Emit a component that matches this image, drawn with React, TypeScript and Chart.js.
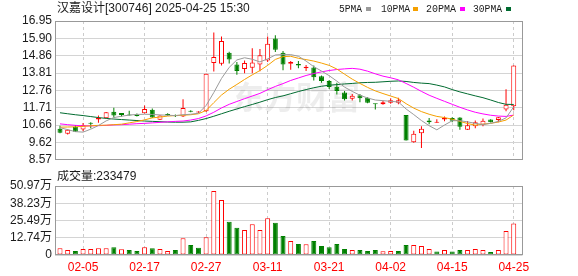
import React, { useEffect, useRef } from 'react';
import { Chart, registerables } from 'chart.js';

Chart.register(...registerables);

// ---------- data ----------
const days = ['01-23','01-24','01-27','02-05','02-06','02-07','02-10','02-11','02-12','02-13','02-14','02-17','02-18','02-19','02-20','02-21','02-24','02-25','02-26','02-27','02-28','03-03','03-04','03-05','03-06','03-07','03-10','03-11','03-12','03-13','03-14','03-17','03-18','03-19','03-20','03-21','03-24','03-25','03-26','03-27','03-28','03-31','04-01','04-02','04-03','04-07','04-08','04-09','04-10','04-11','04-14','04-15','04-16','04-17','04-18','04-21','04-22','04-23','04-24','04-25'];
const tickDays = ['02-05','02-17','02-27','03-11','03-21','04-02','04-15','04-25'];

const opens = [10.45,10.15,10.57,10.40,10.81,11.00,11.08,11.47,11.39,11.31, 11.28,11.38,11.59,10.99,11.32,11.25,11.18,11.53,11.42,11.50, 14.41,14.37,15.04,14.33,14.05,14.13,14.33,14.56,15.90,15.03, 14.37,14.35,14.09,14.15,13.61,13.32,12.98,12.63,12.26,12.46, 12.31,11.95,11.92,12.02,12.02,11.28,9.63,10.17,10.94,10.80, 11.00,11.09,11.12,10.39,10.59,10.69,11.00,10.98,11.61,11.80];
const highs = [10.63,10.42,10.65,10.79,10.83,11.24,11.46,11.72,11.40,11.53, 11.37,11.85,11.67,11.26,11.38,11.30,12.23,11.56,11.50,13.76, 16.25,16.02,15.10,14.48,14.56,15.30,15.26,16.02,16.09,15.14, 14.53,14.53,14.30,14.27,13.66,13.39,13.22,12.72,12.54,12.54, 12.35,11.96,12.14,12.28,12.31,11.28,10.32,10.59,11.09,11.02, 11.18,11.14,11.14,10.92,10.94,11.06,11.02,11.16,12.83,14.27];
const lows = [10.18,10.10,10.25,10.30,10.48,10.80,11.06,11.12,11.18,11.24, 11.18,11.36,11.10,10.97,11.22,11.15,11.15,11.44,11.40,11.45, 13.90,14.27,14.38,13.70,13.80,13.80,13.92,14.47,15.08,13.98, 14.01,14.09,13.93,13.36,13.22,12.84,12.52,12.15,12.15,12.05, 11.98,11.60,11.90,11.96,11.93,9.74,9.60,9.28,10.71,10.80, 10.89,10.84,10.39,10.37,10.48,10.59,10.82,10.84,11.50,11.56];
const closes = [10.20,10.39,10.27,10.66,10.75,11.10,11.44,11.24,11.28,11.25, 11.22,11.63,11.12,11.24,11.28,11.20,11.70,11.47,11.47,13.76, 14.77,15.75,14.62,13.93,14.42,14.44,14.88,15.58,15.22,14.33, 14.47,14.27,14.19,13.55,13.33,12.97,12.72,12.23,12.44,12.28, 12.01,11.92,12.05,12.17,12.17,9.74,10.14,10.45,10.84,10.83, 11.09,10.93,10.56,10.65,10.83,10.93,10.84,11.14,11.89,14.27];

const ma5 = [10.51,10.39,10.27,10.24,10.42,10.64,10.92,11.12,11.20,11.27, 11.31,11.32,11.31,11.28,11.26,11.24,11.29,11.32,11.38,11.85, 12.63,13.48,14.15,14.60,14.73,14.64,14.48,14.66,14.90,14.92, 14.92,14.82,14.53,14.19,13.93,13.65,13.32,12.96,12.70,12.47, 12.30,12.18,12.14,12.10,12.06,11.64,11.30,10.94,10.63,10.38, 10.67,10.93,10.93,10.86,10.77,10.70,10.77,10.89,11.10,11.77];
const ma10 = [10.54,10.55,10.56,10.59,10.62,10.65,10.66,10.69,10.72,10.80, 10.88,10.98,11.10,11.15,11.21,11.24,11.26,11.29,11.35,11.55, 12.02,12.48,12.83,13.12,13.42,13.70,13.96,14.27,14.63,14.80, 14.82,14.70,14.62,14.53,14.41,14.27,14.05,13.74,13.44,13.18, 12.94,12.73,12.57,12.42,12.27,11.96,11.69,11.48,11.32,11.19, 11.12,11.02,10.89,10.76,10.66,10.72,10.77,10.85,10.97,11.28];
const ma20 = [10.74,10.69,10.65,10.62,10.62,10.63,10.65,10.68,10.69,10.72, 10.75,10.77,10.80,10.83,10.86,10.89,10.91,10.97,11.06,11.22, 11.44,11.70,11.92,12.09,12.26,12.42,12.58,12.80,13.00,13.17, 13.36,13.51,13.66,13.78,13.88,13.96,14.02,14.06,14.09,14.04, 13.92,13.76,13.62,13.52,13.40,13.18,12.95,12.70,12.47,12.28, 12.10,11.92,11.74,11.58,11.44,11.34,11.26,11.21,11.19,11.27];
const ma30 = [11.41,11.35,11.29,11.24,11.18,11.12,11.07,11.03,11.00,10.97, 10.94,10.91,10.89,10.87,10.85,10.84,10.84,10.86,10.95,11.06, 11.20,11.35,11.50,11.64,11.78,11.91,12.05,12.20,12.33,12.43, 12.56,12.69,12.81,12.92,13.01,13.07,13.11,13.15,13.18,13.22, 13.24,13.25,13.28,13.31,13.33,13.30,13.24,13.20,13.17,13.08, 12.97,12.81,12.67,12.55,12.43,12.32,12.18,12.03,11.92,11.91];

// volume in 万 (10k lots)
const volumes = [4.9,3.7,3.0,4.4,4.4,4.9,4.9,5.7,4.2,3.7, 3.0,5.7,4.9,4.4,3.0,3.7,12.3,7.4,5.4,13.1, 47.3,40.6,24.6,20.2,18.5,22.7,18.5,27.1,23.9,14.0, 10.3,8.1,7.9,10.3,6.6,5.7,8.1,4.4,3.7,3.7, 3.0,3.7,2.8,3.0,3.0,7.4,7.4,6.6,4.4,2.5, 3.7,2.5,3.7,3.7,4.4,3.7,2.2,3.7,17.7,23.35];
const volUp = [1,1,0,1,1,1,1,0,1,0, 0,1,0,1,1,0,1,0,0,1, 1,1,0,0,1,1,1,1,0,0, 1,0,1,0,0,0,0,0,1,0, 0,0,1,1,0,0,1,1,1,0, 1,0,0,1,1,1,0,1,1,1];

const priceTickLabels = ['8.57','9.62','10.66','11.71','12.76','13.81','14.86','15.90','16.95'];
const volTickValues = [0, 12.74, 25.49, 38.23, 50.97];
const maNames = ['5PMA','10PMA','20PMA','30PMA'];
const chartTitle = '汉嘉设计[300746] 2025-04-25 15:30';
const volumeTitle = '成交量:233479';

// ---------- styles ----------
const RED = '#ff0000';
const GREEN = '#008000';
const MA_COLORS = ['#9a9a9a', '#f5a000', '#ff00ff', '#006b30'];
const SANS = '"Liberation Sans", "Noto Sans CJK SC", sans-serif';
const X_MIN = -0.65;
const X_MAX = 60.14;

function xScale(showLabels: boolean) {
  return {
    type: 'linear',
    min: X_MIN,
    max: X_MAX,
    offset: false,
    afterBuildTicks: (s: any) => {
      s.ticks = tickDays.map((d) => ({ value: days.indexOf(d) }));
    },
    afterFit: (s: any) => {
      s.height = showLabels ? 21 : 0;
    },
    grid: { color: '#cccccc', lineWidth: 1, drawTicks: false, offset: false },
    border: { display: false, dash: [3, 3] },
    ticks: {
      display: showLabels,
      autoSkip: false,
      maxRotation: 0,
      minRotation: 0,
      padding: 5,
      color: RED,
      font: { family: SANS, size: 12 },
      callback: (_v: any, i: number) => tickDays[i],
    },
  };
}

function drawFrame(chart: any) {
  const { ctx, chartArea } = chart;
  const l = Math.round(chartArea.left);
  const t = Math.round(chartArea.top);
  const r = Math.round(chartArea.right);
  const b = Math.round(chartArea.bottom);
  ctx.save();
  ctx.strokeStyle = '#999999';
  ctx.lineWidth = 1;
  ctx.strokeRect(l + 0.5, t + 0.5, r - l - 1, b - t - 1);
  ctx.restore();
}

export default function App() {
  const topRef = useRef<HTMLCanvasElement>(null);
  const botRef = useRef<HTMLCanvasElement>(null);

  useEffect(() => {
    document.body.style.margin = '0';
    Chart.defaults.font.family = SANS;
    Chart.defaults.font.size = 12;

    const idx = days.map((_, i) => i);
    const up = idx.map((i) => closes[i] >= opens[i]);
    const maSeries = [ma5, ma10, ma20, ma30];

    const topPlugin = {
      id: 'topDecor',
      beforeDatasetsDraw(chart: any) {
        const ctx = chart.ctx;
        ctx.save();
        ctx.fillStyle = 'rgba(0,0,0,0.07)';
        ctx.font = 'bold 32px "Noto Sans CJK SC", sans-serif';
        ctx.textBaseline = 'middle';
        ctx.textAlign = 'left';
        ctx.fillText('东方财富', 232, 97);
        ctx.restore();
      },
      afterDraw(chart: any) {
        const ctx = chart.ctx;
        drawFrame(chart);
        ctx.save();
        ctx.fillStyle = '#1b1b1b';
        ctx.textBaseline = 'middle';
        ctx.textAlign = 'left';
        ctx.font = `12px ${SANS}`;
        ctx.fillText(chartTitle, 57, 9);
        const lx = [339, 381, 426, 473];
        const lw = [23, 29, 30, 29];
        const sq = [366, 413, 460, 506];
        ctx.font = '11px "Liberation Mono", monospace';
        maNames.forEach((n, k) => {
          ctx.fillStyle = '#1b1b1b';
          ctx.fillText(n, lx[k], 9, lw[k]);
          ctx.fillStyle = MA_COLORS[k];
          ctx.fillRect(sq[k], 7, 5, 4);
        });
        ctx.restore();
      },
    };

    const botPlugin = {
      id: 'botDecor',
      afterDraw(chart: any) {
        const ctx = chart.ctx;
        drawFrame(chart);
        ctx.save();
        ctx.fillStyle = '#1b1b1b';
        ctx.textBaseline = 'middle';
        ctx.textAlign = 'left';
        ctx.font = `12px ${SANS}`;
        ctx.fillText(volumeTitle, 57, 7);
        ctx.restore();
      },
    };

    const top = new Chart(topRef.current as HTMLCanvasElement, {
      type: 'bar',
      data: {
        datasets: [
          ...maSeries.map((m, k) => ({
            type: 'line',
            label: maNames[k],
            data: idx.map((i) => ({ x: i, y: m[i] })),
            borderColor: MA_COLORS[k],
            borderWidth: 1,
            pointRadius: 0,
            fill: false,
            tension: 0,
            order: 0,
          })),
          {
            type: 'bar',
            label: 'body',
            data: idx.map((i) => ({ x: i, y: [opens[i], closes[i]] })),
            backgroundColor: idx.map((i) => (up[i] ? '#ffffff' : GREEN)),
            borderColor: idx.map((i) => (up[i] ? RED : GREEN)),
            borderWidth: 1,
            borderSkipped: false,
            barThickness: 5,
            minBarLength: 1,
            grouped: false,
            inflateAmount: 0,
            order: 1,
          },
          {
            type: 'bar',
            label: 'wick',
            data: idx.map((i) => ({ x: i, y: [lows[i], highs[i]] })),
            backgroundColor: idx.map((i) => (up[i] ? RED : GREEN)),
            borderWidth: 0,
            barThickness: 1,
            grouped: false,
            inflateAmount: 0,
            order: 2,
          },
        ] as any,
      },
      options: {
        responsive: false,
        maintainAspectRatio: false,
        animation: false,
        devicePixelRatio: 1,
        events: [],
        layout: { padding: { left: 0, top: 21, right: 55.5, bottom: 5 } },
        plugins: { legend: { display: false }, tooltip: { enabled: false } },
        scales: {
          x: xScale(false) as any,
          y: {
            type: 'linear',
            min: 8.57,
            max: 16.95,
            afterBuildTicks: (s: any) => {
              s.ticks = priceTickLabels.map((t) => ({ value: Number(t) }));
            },
            afterFit: (s: any) => {
              s.width = 55;
            },
            grid: { color: '#d4d4d4', lineWidth: 1, drawTicks: false },
            border: { display: false },
            ticks: {
              autoSkip: false,
              padding: 3,
              color: '#1b1b1b',
              font: { family: SANS, size: 12 },
              callback: (_v: any, i: number) => priceTickLabels[i],
            },
          } as any,
        },
      },
      plugins: [topPlugin],
    } as any);

    const bot = new Chart(botRef.current as HTMLCanvasElement, {
      type: 'bar',
      data: {
        datasets: [
          {
            label: 'volume',
            data: idx.map((i) => ({ x: i, y: volumes[i] })),
            backgroundColor: idx.map((i) => (volUp[i] ? '#ffffff' : GREEN)),
            borderColor: idx.map((i) => (volUp[i] ? RED : GREEN)),
            borderWidth: 1,
            borderSkipped: false,
            barThickness: 5,
            grouped: false,
            inflateAmount: 0,
          },
        ] as any,
      },
      options: {
        responsive: false,
        maintainAspectRatio: false,
        animation: false,
        devicePixelRatio: 1,
        events: [],
        layout: { padding: { left: 0, top: 16, right: 55.5, bottom: 0 } },
        plugins: { legend: { display: false }, tooltip: { enabled: false } },
        scales: {
          x: xScale(true) as any,
          y: {
            type: 'linear',
            min: 0,
            max: 50.97,
            afterBuildTicks: (s: any) => {
              s.ticks = volTickValues.map((v) => ({ value: v }));
            },
            afterFit: (s: any) => {
              s.width = 55;
            },
            grid: { color: '#d4d4d4', lineWidth: 1, drawTicks: false },
            border: { display: false },
            ticks: {
              autoSkip: false,
              padding: 3,
              color: '#1b1b1b',
              font: { family: SANS, size: 12 },
              callback: (_v: any, i: number) =>
                volTickValues[i] === 0 ? '0' : volTickValues[i].toFixed(2) + '万',
            },
          } as any,
        },
      },
      plugins: [botPlugin],
    } as any);

    return () => {
      top.destroy();
      bot.destroy();
    };
  }, []);

  return (
    <div style={{ position: 'relative', width: 578, height: 276, background: '#ffffff' }}>
      <canvas ref={topRef} width={578} height={170} style={{ position: 'absolute', left: 0, top: 0 }} />
      <canvas ref={botRef} width={578} height={106} style={{ position: 'absolute', left: 0, top: 170 }} />
    </div>
  );
}
